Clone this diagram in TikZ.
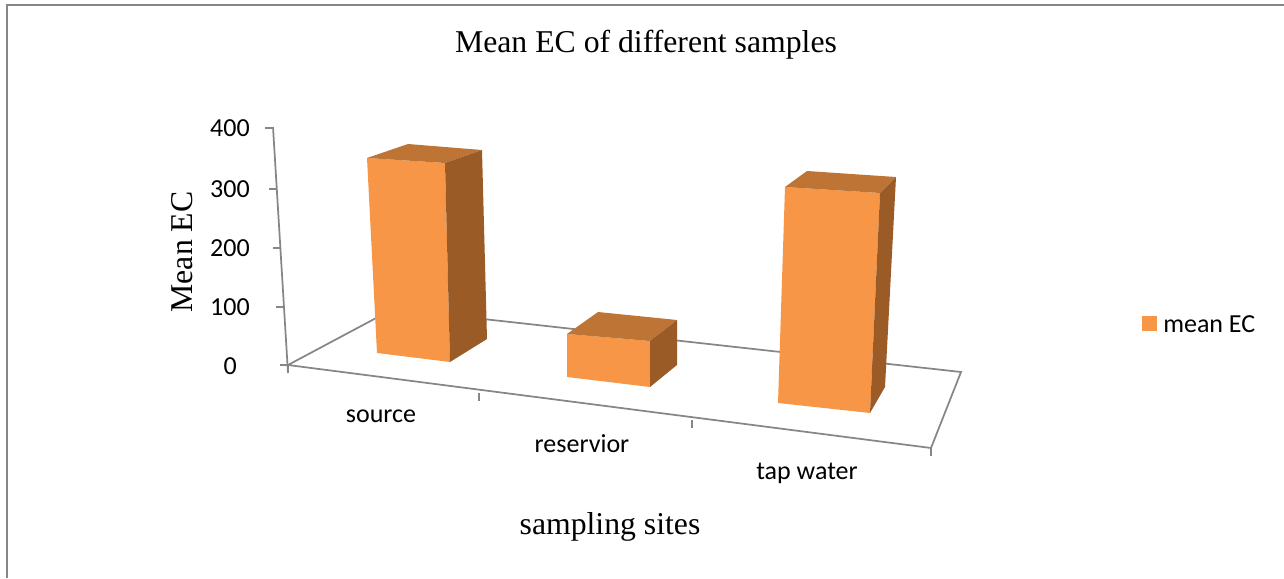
\documentclass[tikz,border=0pt]{standalone}
\usepackage{fontspec}
\setmainfont{Liberation Serif}
\newfontfamily\calib{Carlito}
\definecolor{ecfront}{HTML}{F79646}
\definecolor{ectop}{HTML}{BD7435}
\definecolor{ecside}{HTML}{9A5B27}
\definecolor{axgray}{HTML}{868686}
\begin{document}
\begin{tikzpicture}[x=0.75pt,y=-0.75pt,
  axisline/.style={draw=axgray,line width=1.3pt},
  barfront/.style={fill=ecfront},
  bartop/.style={fill=ectop},
  barside/.style={fill=ecside},
  ticklab/.style={font=\calib\fontsize{19.5}{22}\selectfont,anchor=east,inner sep=0pt},
  catlab/.style={font=\calib\fontsize{19.5}{22}\selectfont,inner sep=0pt},
  ttl/.style={font=\fontsize{23.8}{27}\selectfont,inner sep=0pt}]
\useasboundingbox (0,0) rectangle (1284,578);
\draw[axgray,line width=1.5pt] (7,578) -- (7,5) -- (1284,5);
% floor
\coordinate (o) at (288,365);
\coordinate (bl) at (393,309);
\coordinate (br) at (961,372);
\coordinate (fr) at (931,448);
\coordinate (ytop) at (273,127);
\draw[axisline] (o) -- (bl) -- (br) -- (fr) -- (o);
\draw[axisline] (288,373) -- (ytop);
\foreach \x/\y in {288/365,479/393,692/420,931/448}
  \draw[axisline] (\x,\y) -- (\x,\y+8);
\foreach \y/\v in {128/400,189/300,248/200,307/100}
  {\draw[axisline] ({288-15*(365-\y)/238-8},\y) -- ({288-15*(365-\y)/238},\y);
   \node[ticklab] (t\v) at (250,\y) {\v};}
\draw[axisline] (280,365) -- (o);
\node[ticklab] (t0) at (237,366) {0};
% bars
\fill[barfront] (367,158) -- (445,163) -- (450,362) -- (377,353) -- cycle;
\fill[bartop] (367,158) -- (408,144) -- (482,150) -- (445,163) -- cycle;
\fill[barside] (445,163) -- (482,150) -- (487,339) -- (450,362) -- cycle;
\fill[barfront] (567,334) -- (650,341) -- (650,387) -- (567,377) -- cycle;
\fill[bartop] (567,334) -- (598,312) -- (677,320) -- (650,341) -- cycle;
\fill[barside] (650,341) -- (677,320) -- (677,365) -- (650,387) -- cycle;
\fill[barfront] (785,187) -- (880,193) -- (870,413) -- (778,403) -- cycle;
\fill[bartop] (785,187) -- (807,171) -- (896,177) -- (880,193) -- cycle;
\fill[barside] (880,193) -- (896,177) -- (885,387) -- (870,413) -- cycle;
% labels
\node[catlab] (source) at (381,416) {source};
\node[catlab] (reservior) at (582,444) {reservior};
\node[catlab] (tap) at (807,473) {tap water};
\node[ttl] (title) at (646,45) {Mean EC of different samples};
\node[ttl,rotate=90] (ytitle) at (182,252) {Mean EC};
\node[ttl] (xtitle) at (610,527) {sampling sites};
\fill[ecfront] (1142,316) rectangle (1157,331);
\node[catlab,anchor=west] (leg) at (1163,324) {mean EC};
\end{tikzpicture}
\end{document}
